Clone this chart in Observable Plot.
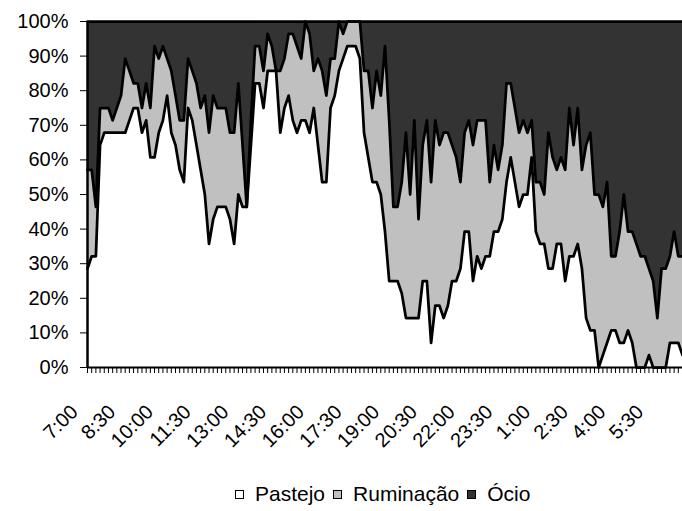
<!DOCTYPE html>
<html><head><meta charset="utf-8">
<script src="https://cdn.jsdelivr.net/npm/d3@7"></script>
<script src="https://cdn.jsdelivr.net/npm/@observablehq/plot@0.6"></script>
<style>
body{margin:0;background:#fff;font-family:"Liberation Sans",Arial,sans-serif;}
#wrap{position:relative;width:682px;height:511px;overflow:hidden;}
#legend{position:absolute;left:235px;top:482px;height:24px;display:flex;align-items:center;font-size:21px;color:#000;white-space:nowrap;}
.it{display:flex;align-items:center;margin-right:8px;}
.sw{display:inline-block;flex:0 0 auto;width:7px;height:7px;border:1.5px solid #000;margin-right:11px;}
</style></head><body><div id="wrap"></div>
<script>
// Number of animals (out of 28) in each activity, every 10 minutes from 7:00
const pastejo = [8,9,9,18,19,19,19,19,19,19,
20,21,21,19,20,17,17,19,20,22,
19,18,16,15,21,20,18,16,14,10,
12,13,13,13,12,10,14,13,13,18,
23,23,21,24,24,24,19,21,22,20,
19,20,20,19,21,18,15,15,21,22,
24,25,26,26,26,25,19,17,15,15,
14,11,7,7,7,6,4,4,4,4,
7,7,2,5,5,4,5,7,7,8,
11,11,7,9,8,9,9,11,11,12,
15,17,15,13,14,14,17,11,10,10,
8,8,10,10,7,9,9,10,8,4,
3,3,0,1,2,3,3,2,2,3,
2,0,0,0,1,0,0,0,0,2,
2,2,1];
const ruminacao = [8,7,4,3,2,2,1,2,3,6,
4,2,2,2,3,4,9,6,6,3,
5,4,4,5,4,4,5,5,8,9,
10,8,8,8,7,9,9,5,0,2,
3,3,3,3,2,0,5,4,5,7,
7,5,8,8,3,7,9,7,4,3,
4,2,2,2,2,3,5,7,6,9,
8,15,13,6,6,9,15,10,16,8,
11,13,13,15,13,15,14,11,10,7,
8,9,11,11,12,11,6,7,5,6,
8,6,6,6,6,5,3,4,5,4,
11,9,6,7,9,12,9,11,8,14,
16,11,14,12,13,6,6,9,12,8,
9,10,9,9,7,7,4,8,8,7,
9,7,8];
const ocio = [12,12,15,7,7,7,8,7,6,3,
4,5,5,7,5,7,2,3,2,3,
4,6,8,8,3,4,5,7,6,9,
6,7,7,7,9,9,5,10,15,8,
2,2,4,1,2,4,4,3,1,1,
2,3,0,1,4,3,4,6,3,3,
0,1,0,0,0,0,4,4,7,4,
6,2,8,15,15,13,9,14,8,16,
10,8,13,8,10,9,9,10,11,13,
9,8,10,8,8,8,13,10,12,10,
5,5,7,9,8,9,8,13,13,14,
9,11,12,11,12,7,10,7,12,10,
9,14,14,15,13,19,19,17,14,17,
17,18,19,19,20,21,24,20,20,19,
17,19,19];

const series = ["Pastejo", "Ruminação", "Ócio"];
const seriesColors = ["#ffffff", "#c0c0c0", "#333333"];
const tickLabels = ["7:00","8:30","10:00","11:30","13:00","14:30","16:00","17:30",
                    "19:00","20:30","22:00","23:30","1:00","2:30","4:00","5:30"];
const labelEvery = 9; // one label every 9 ten-minute steps (1h30)
const yTicks = [0,0.1,0.2,0.3,0.4,0.5,0.6,0.7,0.8,0.9,1];

const n = pastejo.length;
const table = [];
[pastejo, ruminacao, ocio].forEach((arr, k) => arr.forEach((v, i) => table.push({i, s: series[k], v})));

const chart = Plot.plot({
  width: 682, height: 470,
  marginLeft: 87, marginRight: 0, marginTop: 21, marginBottom: 103,
  style: {fontFamily: "'Liberation Sans', Arial, sans-serif", fontSize: "20px", color: "#000", background: "#fff", overflow: "visible"},
  x: {domain: [0, n - 1], label: null},
  y: {domain: [0, 1], label: null},
  color: {domain: series, range: seriesColors},
  marks: [
    Plot.areaY(table, Plot.stackY({x: "i", y: "v", z: "s", fill: "s", offset: "normalize"})),
    Plot.lineY(table, Plot.stackY2({x: "i", y: "v", z: "s", offset: "normalize", stroke: "#000", strokeWidth: 2.75, strokeLinejoin: "round"})),
    Plot.ruleX([0], {y1: 0, y2: 1, stroke: "#000", strokeWidth: 2.5}),
    Plot.ruleY([0], {stroke: "#000", strokeWidth: 2}),
    Plot.axisY(yTicks, {tickFormat: d => Math.round(d * 100) + "%", tickSize: 7, tickPadding: 12, fontSize: 20, label: null}),
    Plot.axisX(d3.range(n), {tickSize: 6, tickFormat: () => "", label: null}),
    Plot.text(tickLabels, {x: (d, k) => k * labelEvery, y: () => 0, text: d => d, rotate: -45,
      textAnchor: "end", lineAnchor: "middle", dx: -13, dy: 41, fontSize: 20})
  ]
});

const wrap = document.getElementById("wrap");
wrap.appendChild(chart);
const legend = document.createElement("div");
legend.id = "legend";
series.forEach((s, k) => {
  const it = document.createElement("div");
  it.className = "it";
  const sw = document.createElement("span");
  sw.className = "sw";
  sw.style.background = seriesColors[k];
  const tx = document.createElement("span");
  tx.textContent = s;
  it.appendChild(sw); it.appendChild(tx);
  legend.appendChild(it);
});
wrap.appendChild(legend);
</script></body></html>
